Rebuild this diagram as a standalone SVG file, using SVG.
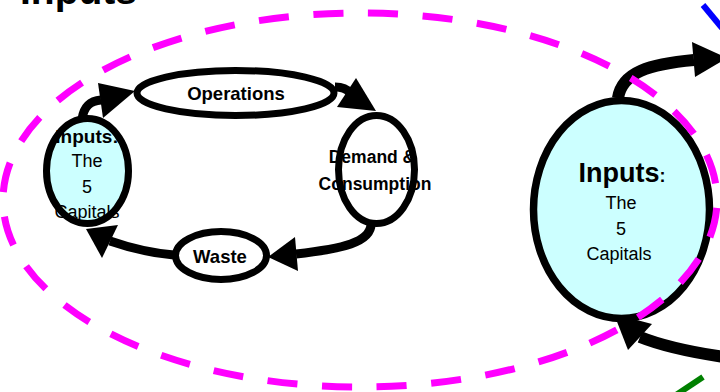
<svg xmlns="http://www.w3.org/2000/svg" width="720" height="392" viewBox="0 0 720 392">
<style>
.t{font-family:"Liberation Sans",Arial,sans-serif;fill:#000}
.lbl{font-family:"Liberation Sans",Arial,sans-serif;fill:#000;text-anchor:middle}
.b{font-weight:bold}
.node{stroke:#000;stroke-width:7}
.cap{fill:#CCFFFF}
.plain{fill:#FFFFFF}
.shaft{fill:none;stroke:#000;stroke-width:9}
.shaft.big{stroke-width:12}
.head{fill:#000}
.ring{fill:none;stroke:#FF00FF;stroke-width:7}
</style>
<rect width="720" height="392" fill="#FFFFFF"/>
<text class="t b" x="20" y="4" font-size="39">Inputs</text>

<g id="connectors">
  <path class="shaft" d="M82,119 C84,106 90,101 101,100"/>
  <polygon class="head" points="98,83 135,91 103,118"/>
  <path class="shaft" d="M335,87 C342,87 347,89 350,93"/>
  <polygon class="head" points="356,78 376,111 337,107"/>
  <path class="shaft" d="M371,222 C373,243 340,249 296,254"/>
  <polygon class="head" points="295,237 298,271 268,257"/>
  <path class="shaft" d="M174,255 C150,253 130,248 110,241"/>
  <polygon class="head" points="118,225 102,258 86,229"/>
  <path class="shaft big" d="M618,98 C622,72 650,64 694,60"/>
  <polygon class="head" points="692,42 727,58 695,77"/>
  <path class="shaft big" d="M724,357 C690,352 660,345 640,337"/>
  <polygon class="head" points="652,324 628,350 614,314"/>
</g>

<g id="inputs-small">
  <ellipse class="node cap" cx="87.5" cy="171" rx="41" ry="52.5"/>
  <text class="lbl b" x="87" y="143" font-size="19">Inputs:</text>
  <text class="lbl" x="87" y="167" font-size="18">The</text>
  <text class="lbl" x="87" y="193" font-size="18">5</text>
  <text class="lbl" x="87" y="218" font-size="18">Capitals</text>
</g>
<g id="operations">
  <ellipse class="node plain" cx="235.5" cy="93" rx="98.5" ry="22.5"/>
  <text class="lbl b" x="236" y="100" font-size="18.5">Operations</text>
</g>
<g id="demand">
  <ellipse class="node plain" cx="376.5" cy="169.5" rx="38" ry="54"/>
  <text class="lbl b" x="372" y="163" font-size="17.5">Demand &amp;</text>
  <text class="lbl b" x="375" y="190" font-size="17.5">Consumption</text>
</g>
<g id="waste">
  <ellipse class="node plain" cx="221" cy="255.5" rx="45.5" ry="24"/>
  <text class="lbl b" x="220" y="263" font-size="18.5">Waste</text>
</g>
<g id="inputs-big">
  <ellipse class="node cap" cx="621.5" cy="209.5" rx="88" ry="109" style="stroke-width:7.5"/>
  <text class="lbl b" x="622" y="182" font-size="27">Inputs<tspan font-size="18">:</tspan></text>
  <text class="lbl" x="621" y="209" font-size="18">The</text>
  <text class="lbl" x="621" y="235" font-size="18">5</text>
  <text class="lbl" x="619" y="260" font-size="18">Capitals</text>
</g>

<path class="ring" pathLength="3200" stroke-dasharray="55 45" stroke-dashoffset="-14.6" d="M360,13 A357,187 0 0 1 360,387 A357,187 0 0 1 360,13 Z"/>
<line x1="703" y1="5" x2="722" y2="28" stroke="#0000FF" stroke-width="6"/>
<line x1="676" y1="395" x2="703" y2="377" stroke="#008000" stroke-width="6"/>
</svg>
